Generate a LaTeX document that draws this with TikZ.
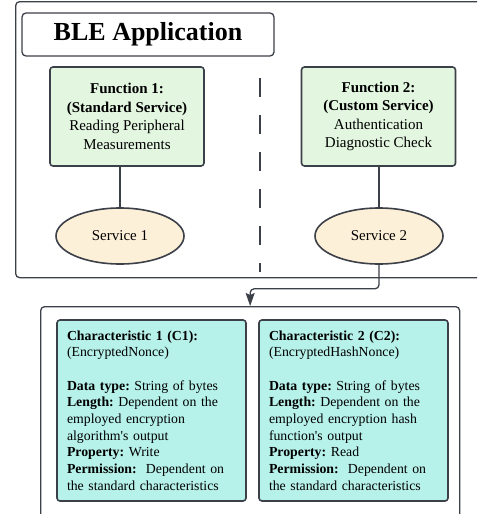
\documentclass[tikz,border=0pt]{standalone}
\usepackage{fontspec}
\setmainfont{Liberation Serif}[Ligatures=TeXOff]
\usetikzlibrary{arrows.meta,shapes.geometric}
\definecolor{edge}{HTML}{3C4049}
\definecolor{fgreen}{HTML}{E2F6E0}
\definecolor{sorange}{HTML}{FDF0D8}
\definecolor{ccyan}{HTML}{B6F1EA}
\frenchspacing
\tikzset{
  frame/.style={draw=edge, line width=1.3pt, rounded corners=4pt, fill=white},
  funcbox/.style={draw=edge, line width=1.6pt, rounded corners=3pt, fill=fgreen,
    minimum width=154pt, minimum height=99pt, align=center,
    font=\fontsize{15}{18.5}\selectfont},
  svc/.style={ellipse, draw=edge, line width=1.6pt, fill=sorange,
    minimum width=128pt, minimum height=56pt, inner sep=0pt,
    font=\fontsize{15}{18}\selectfont},
  charbox/.style={draw=edge, line width=1.6pt, rounded corners=3pt, fill=ccyan,
    minimum width=189pt, minimum height=181pt, text width=169pt, align=left,
    inner xsep=10pt, font=\fontsize{13.8}{16.7}\selectfont},
  link/.style={draw=edge, line width=1.3pt},
  divider/.style={draw=edge, line width=1.3pt, dash pattern=on 19pt off 18pt}
}
\begin{document}
\begin{tikzpicture}[x=1pt,y=-1pt]
\useasboundingbox (0,0) rectangle (477,514);
\clip (0,0) rectangle (477,514);
% outer frames
\node[frame, minimum width=480pt, minimum height=276pt, anchor=north west] (app) at (15,1) {};
\node[frame, minimum width=419pt, minimum height=220pt, anchor=north west] (chars) at (40,306) {};
% title
\node[draw=edge, line width=1.3pt, rounded corners=4pt, fill=white,
  minimum width=252pt, minimum height=43pt, font=\fontsize{26}{30}\selectfont\bfseries]
  (title) at (148,34.5) {BLE Application};
% divider
\draw[divider] (260,78) -- (260,272);
% functions
\node[funcbox] (f1) at (127,116.5) {\textbf{Function 1:}\\\textbf{(Standard Service)}\\Reading Peripheral\\Measurements};
\node[funcbox] (f2) at (378.5,116.5) {\textbf{Function 2:}\\\textbf{(Custom Service)}\\Authentication\\Diagnostic Check};
% services
\node[svc] (s1) at (120,236) {Service 1};
\node[svc] (s2) at (379,236) {Service 2};
\draw[link] (s1.north) -- (s1.north |- f1.south);
\draw[link] (s2.north) -- (s2.north |- f2.south);
% arrow to characteristics
\draw[link, rounded corners=4pt, -{Stealth[width=9pt,length=13pt,inset=2pt]}]
  (s2.south) -- ++(0,24) -| (chars.north);
% characteristics
\node[charbox] (c1) at (151.5,410.5) {\textbf{Characteristic 1 (C1):}\\(EncryptedNonce)\\[16.7pt]\textbf{Data type:} String of bytes\\\textbf{Length:} Dependent on the\\employed encryption\\algorithm's output\\\textbf{Property:} Write\\\textbf{Permission:}\ \ Dependent on\\the standard characteristics};
\node[charbox] (c2) at (353.5,410.5) {\textbf{Characteristic 2 (C2):}\\(EncryptedHashNonce)\\[16.7pt]\textbf{Data type:} String of bytes\\\textbf{Length:} Dependent on the\\employed encryption hash\\function's output\\\textbf{Property:} Read\\\textbf{Permission:}\ \ Dependent on\\the standard characteristics};
\end{tikzpicture}
\end{document}
